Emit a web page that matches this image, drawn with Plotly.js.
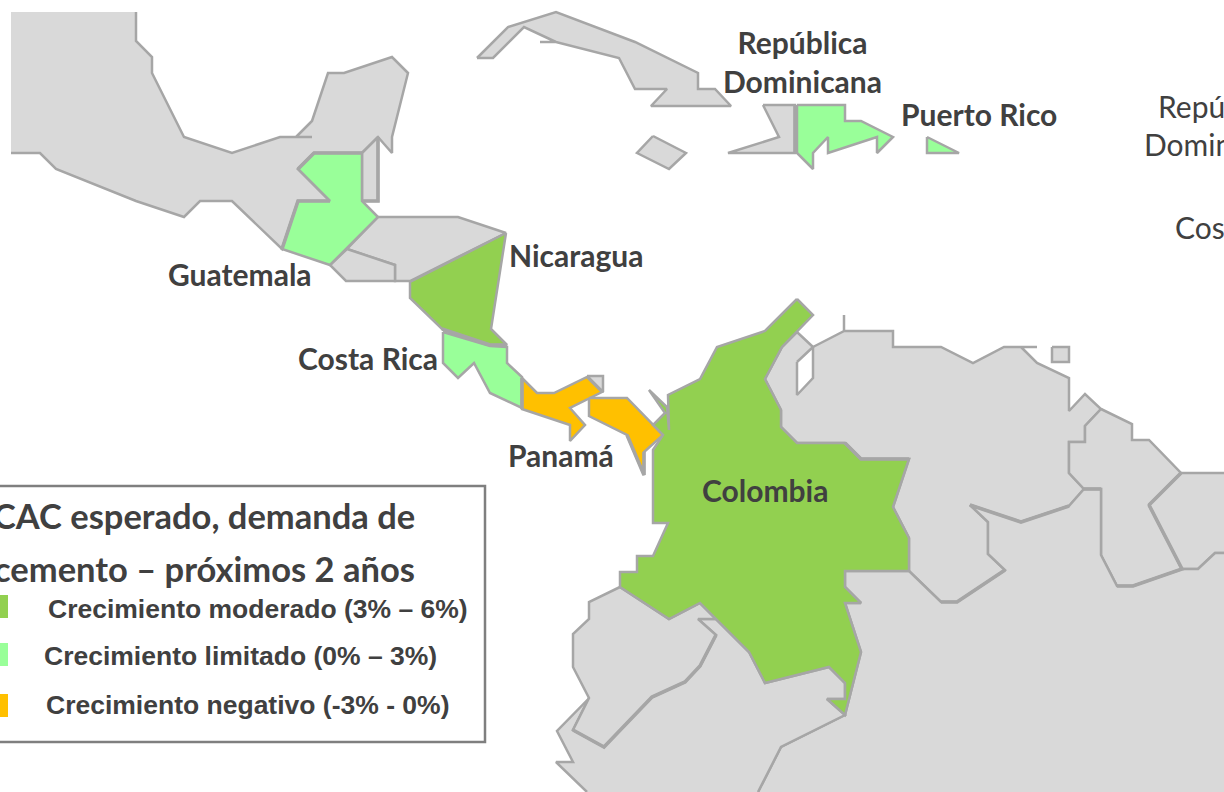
<!DOCTYPE html>
<html>
<head>
<meta charset="utf-8">
<script src="https://cdn.plot.ly/plotly-3.0.1.min.js"></script>
<style>html,body{margin:0;padding:0;background:#fff;overflow:hidden}#chart{width:1224px;height:792px}</style>
</head>
<body>
<div id="chart"></div>
<script>
const GREY = '#D9D9D9', EDGE = '#A6A6A6', MOD = '#92D050', LIM = '#99FF99', NEG = '#FFC000', WHITE = '#FFFFFF', TXT = '#404040';

// outlines (page-pixel map coordinates)
const mexico = [[136,12],[136,41],[152,57],[152,73],[184,137],[232,153],[280,137],[312,137],[296,137],[312,121],[328,73],[344,73],[392,57],[408,73],[392,137],[392,153],[378,137],[362,153],[314,153],[298,169],[330,201],[298,201],[282,249],[232,201],[200,201],[184,217],[136,201],[56,169],[40,153],[11,153]];
const mexicoClip = [[11,12]];
const belize = [[362,153],[378,137],[378,201],[362,201]];
const honduras = [[378,217],[458,217],[506,233],[410,281],[395,281],[395,265],[347,249]];
const salvador = [[347,249],[395,265],[395,281],[346,281],[330,265]];
const cuba = [[477,58],[493,58],[524,27],[556,42],[540,42],[556,42],[619,58],[635,89],[667,89],[651,106],[731,106],[715,89],[698,89],[698,73],[635,42],[556,12],[508,27]];
const jamaica = [[653,136],[686,153],[669,169],[637,153]];
const haiti = [[763,105],[795,105],[795,153],[728,153],[779,137]];
const venezuela = [[813,347],[844,331],[844,315],[844,331],[893,331],[893,347],[941,347],[973,363],[1004,347],[1037,347],[1021,347],[1037,363],[1069,378],[1069,411],[1085,394],[1101,409],[1085,426],[1085,442],[1069,442],[1069,473],[1084,489],[1069,506],[1021,522],[970,505],[988,522],[988,554],[1005,570],[957,602],[941,602],[909,571],[909,538],[893,507],[909,459],[861,459],[845,443],[797,443],[781,427],[781,410],[765,379],[782,347],[797,332]];
const lake = [[797,362],[813,347],[813,378],[797,395]];
const trinidad = [[1052,347],[1069,347],[1069,362],[1052,362]];
const guyana = [[1101,409],[1132,424],[1132,440],[1149,440],[1181,473],[1149,505],[1182,569],[1133,586],[1117,586],[1101,555],[1101,489],[1084,489],[1069,473],[1069,442],[1085,442],[1085,426]];
const suriname = [[1224,473],[1181,473],[1149,505],[1182,569],[1198,569],[1215,553],[1224,553]];
const brazil = [[1224,553],[1215,553],[1198,569],[1182,569],[1133,586],[1117,586],[1101,555],[1101,489],[1084,489],[1069,506],[1021,522],[970,505],[988,522],[988,554],[1005,570],[957,602],[941,602],[909,571],[845,571],[845,587],[861,603],[845,603],[861,652],[845,715],[781,747],[758,792]];
const brazilClip = [[1224,792]];
const ecuador = [[620,587],[589,602],[589,619],[573,634],[573,667],[589,698],[573,730],[604,747],[652,697],[685,682],[700,666],[716,635],[698,619],[716,619],[700,603],[669,619]];
const peru = [[587,792],[556,762],[573,762],[557,731],[605,682],[589,682],[589,698],[573,730],[604,747],[652,697],[685,682],[700,666],[716,635],[698,619],[716,619],[749,652],[765,683],[829,667],[845,683],[845,699],[827,699],[845,715],[781,747],[758,792]];
const guatemala = [[314,153],[362,153],[362,201],[378,217],[330,265],[282,249],[298,201],[330,201],[298,169]];
const nicaragua = [[506,233],[410,282],[410,298],[442,329],[490,345],[507,345],[491,329]];
const costaRica = [[443,332],[443,363],[458,378],[474,363],[490,393],[522,408],[522,377],[507,363],[507,347],[490,346]];
const panamaWest = [[522,378],[537,393],[554,393],[587,377],[602,392],[570,408],[585,425],[570,441],[570,425],[522,409]];
const panamaTip = [[587,376],[603,376],[603,392]];
const panamaEast = [[589,398],[627,398],[663,435],[644,452],[644,475],[627,435],[589,416]];
const dominicana = [[797,105],[845,105],[845,121],[861,121],[893,137],[877,153],[877,137],[828,153],[828,137],[813,153],[813,169],[797,153]];
const puertoRico = [[927,137],[959,153],[927,153]];
const colombia = [[797,299],[813,315],[782,347],[765,379],[781,410],[781,427],[797,443],[845,443],[861,459],[909,459],[893,507],[909,538],[909,571],[845,571],[845,587],[861,603],[845,603],[861,652],[845,715],[827,699],[845,699],[845,683],[829,667],[765,683],[749,652],[700,603],[669,619],[620,587],[620,572],[637,572],[637,556],[653,556],[668,523],[653,523],[653,450],[663,435],[653,425],[665,413],[649,390],[667,407],[669,430],[668,395],[700,379],[717,347],[765,331]];

// borders that are drawn heavier in the picture
const heavyBorders = [
  [[795,105],[795,153]],
  [[282,249],[298,201],[330,201]],
  [[298,169],[314,153],[362,153]],
  [[378,137],[378,201],[362,201]],
  [[442,329],[490,345],[507,345]],
  [[845,443],[861,459],[909,459]],
  [[573,730],[604,747],[652,697],[685,682],[700,666],[716,635]],
  [[1149,505],[1182,569],[1133,586],[1117,586]],
  [[1181,473],[1149,505]],
  [[1069,506],[1021,522],[970,505]],
  [[1084,489],[1101,489]],
  [[1005,570],[957,602],[941,602]],
  [[644,452],[644,475],[627,435]],
  [[522,378],[522,409]]
];

const regions = [
  {pts: mexico, clip: mexicoClip, color: GREY, open: true},
  {pts: belize, color: GREY},
  {pts: honduras, color: GREY},
  {pts: salvador, color: GREY},
  {pts: cuba, color: GREY},
  {pts: jamaica, color: GREY},
  {pts: haiti, color: GREY},
  {pts: venezuela, color: GREY},
  {pts: trinidad, color: GREY},
  {pts: lake, color: WHITE},
  {pts: guyana, color: GREY},
  {pts: suriname, color: GREY, open: true},
  {pts: brazil, clip: brazilClip, color: GREY, open: true},
  {pts: peru, color: GREY, open: true},
  {pts: ecuador, color: GREY},
  {pts: panamaTip, color: GREY},
  {pts: guatemala, color: LIM},
  {pts: costaRica, color: LIM},
  {pts: nicaragua, color: MOD},
  {pts: panamaWest, color: NEG},
  {pts: panamaEast, color: NEG},
  {pts: dominicana, color: LIM},
  {pts: puertoRico, color: LIM},
  {pts: colombia, color: MOD}
];

const countryNames = ['República<br>Dominicana','Puerto Rico','Guatemala','Nicaragua','Costa Rica','Panamá','Colombia'];
const countryX = [802,979,240,576,368,561,765];
const countryY = [61,114,274,255,358,455,490];

const legendTitle = ['CAC esperado, demanda de','cemento – próximos 2 años'];
const legendTitleY = [515,568];
const legendLabels = ['Crecimiento moderado (3% – 6%)','Crecimiento limitado (0% – 3%)','Crecimiento negativo (-3% - 0%)'];
const legendLabelX = [46,42,44];
const legendLabelY = [609,656,705];
const legendColors = [MOD,LIM,NEG];
const legendSwatchTop = [595,643,694];

const offPageNames = ['República','Dominicana','Costa Rica'];
const offPageX = [1156,1142,1173];
const offPageY = [106,144,227];

const traces = [];
regions.forEach(r => {
  const fillPts = r.pts.concat(r.clip || []);
  traces.push({x: fillPts.map(p=>p[0]), y: fillPts.map(p=>p[1]), mode:'lines', fill:'toself', fillcolor:r.color,
    line:{width:0, color:r.color}, hoverinfo:'skip', showlegend:false});
  const linePts = r.open ? r.pts : r.pts.concat([r.pts[0]]);
  traces.push({x: linePts.map(p=>p[0]), y: linePts.map(p=>p[1]), mode:'lines',
    line:{width:2.5, color:EDGE}, hoverinfo:'skip', showlegend:false});
});
heavyBorders.forEach(b => traces.push({x:b.map(p=>p[0]), y:b.map(p=>p[1]), mode:'lines', line:{width:3.6, color:EDGE}, hoverinfo:'skip', showlegend:false}));

const annotations = [];
const mapFont = {family:'Lato, Carlito, sans-serif', size:30, color:TXT};
countryNames.forEach((t,i) => annotations.push({text:'<b>'+t+'</b>', x:countryX[i], y:countryY[i], xref:'x', yref:'y', showarrow:false, xanchor:'center', yanchor:'middle', align:'center', font:mapFont}));
legendTitle.forEach((t,i) => annotations.push({text:'<b>'+t+'</b>', x:417, y:legendTitleY[i], xref:'x', yref:'y', showarrow:false, xanchor:'right', yanchor:'middle', font:{family:'Lato, sans-serif', size:34.5, color:TXT}}));
legendLabels.forEach((t,i) => annotations.push({text:'<b>'+t+'</b>', x:legendLabelX[i], y:legendLabelY[i], xref:'x', yref:'y', showarrow:false, xanchor:'left', yanchor:'middle', font:{family:'Liberation Sans, Arial, sans-serif', size:26.5, color:TXT}}));
offPageNames.forEach((t,i) => annotations.push({text:t, x:offPageX[i], y:offPageY[i], xref:'x', yref:'y', showarrow:false, xanchor:'left', yanchor:'middle', font:{family:'Lato, sans-serif', size:30, color:TXT}}));

const shapes = [{type:'rect', xref:'x', yref:'y', x0:-6, x1:485, y0:486, y1:742, fillcolor:'#FFFFFF', line:{color:'#7F7F7F', width:2.5}, layer:'above'}];
legendColors.forEach((c,i) => shapes.push({type:'rect', xref:'x', yref:'y', x0:-4, x1:8, y0:legendSwatchTop[i], y1:legendSwatchTop[i]+23, fillcolor:c, line:{width:0}, layer:'above'}));

Plotly.newPlot('chart', traces, {
  width:1224, height:792, autosize:false,
  margin:{l:0,r:0,t:0,b:0,pad:0},
  paper_bgcolor:'#FFFFFF', plot_bgcolor:'#FFFFFF',
  xaxis:{range:[0,1224], visible:false, fixedrange:true},
  yaxis:{range:[792,0], visible:false, fixedrange:true},
  showlegend:false, hovermode:false, shapes, annotations
}, {displayModeBar:false, staticPlot:true});
</script>
</body>
</html>
